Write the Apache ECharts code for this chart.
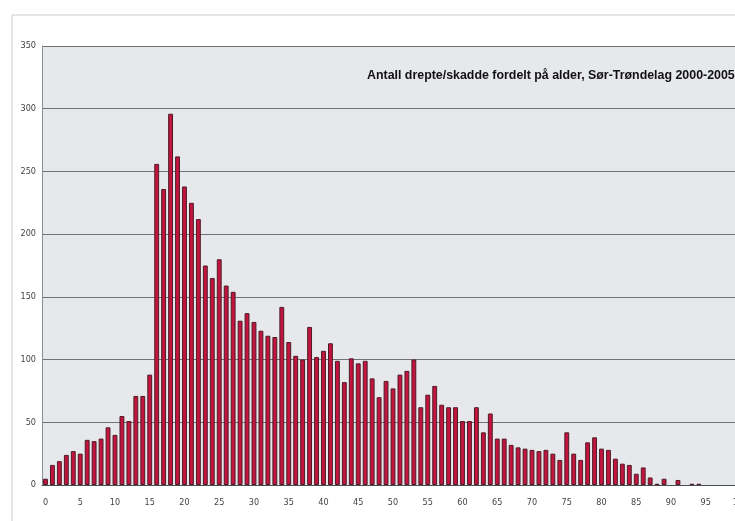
<!DOCTYPE html>
<html>
<head>
<meta charset="utf-8">
<script src="https://cdn.jsdelivr.net/npm/echarts@6/dist/echarts.min.js"></script>
<style>
  html, body { margin: 0; padding: 0; background: #fff; }
  #chart { width: 735px; height: 521px; }
</style>
</head>
<body>
<div id="chart"></div>
<script>
const chartTitle = "Antall drepte/skadde fordelt på alder, Sør-Trøndelag 2000-2005";

// alder 0..100
const ages = [];
for (let a = 0; a <= 100; a++) ages.push(String(a));

// antall per alder
const counts = [
  5, 16, 19, 24, 27, 25, 36, 35, 37, 46,
  40, 55, 51, 71, 71, 88, 256, 236, 296, 262,
  238, 225, 212, 175, 165, 180, 159, 154, 131, 137,
  130, 123, 119, 118, 142, 114, 103, 100, 126, 102,
  107, 113, 99, 82, 101, 97, 99, 85, 70, 83,
  77, 88, 91, 100, 62, 72, 79, 64, 62, 62,
  51, 51, 62, 42, 57, 37, 37, 32, 30, 29,
  28, 27, 28, 25, 20, 42, 25, 20, 34, 38,
  29, 28, 21, 17, 16, 9, 14, 6, 1, 5,
  0, 4, 0, 1, 1, 0, 0, 0, 0, 0,
  0
];

const yMax = 350;
const yStep = 50;

const tickFont = "'DejaVu Sans Condensed', 'Liberation Sans', sans-serif";

const chart = echarts.init(document.getElementById("chart"));
chart.setOption({
  backgroundColor: "#ffffff",
  animation: false,
  graphic: [
    {
      type: "rect",
      shape: { x: 12, y: 15, width: 760, height: 540 },
      style: { fill: "none", stroke: "#c9cdd2", lineWidth: 1 },
      z: -1,
    },
  ],
  title: {
    text: chartTitle,
    left: 362,
    top: 65,
    textStyle: {
      fontFamily: "'Liberation Sans', Arial, sans-serif",
      fontWeight: "bold",
      fontSize: 12.4,
      color: "#111",
    },
  },
  grid: {
    left: 42,
    top: 46,
    width: 702,
    bottom: 36,
    outerBoundsMode: "none",
    containLabel: false,
    show: true,
    backgroundColor: "#e6e8eb",
    borderWidth: 0,
  },
  xAxis: {
    type: "category",
    data: ages,
    axisLine: { lineStyle: { color: "#4a4d51", width: 1 } },
    axisTick: { show: false },
    axisLabel: {
      interval: 4,
      color: "#444",
      fontFamily: tickFont,
      fontSize: 9,
      margin: 13,
    },
  },
  yAxis: {
    type: "value",
    min: 0,
    max: yMax,
    interval: yStep,
    axisLine: { show: true, lineStyle: { color: "#8a8e93", width: 1 } },
    axisTick: { show: false },
    axisLabel: {
      color: "#444",
      fontFamily: tickFont,
      fontSize: 9,
      margin: 6,
    },
    splitLine: { lineStyle: { color: "#6f7276", width: 1 } },
  },
  series: [
    {
      type: "bar",
      data: counts.map((v) => (v > 0 ? v : { value: v, itemStyle: { borderWidth: 0 } })),
      barWidth: "70%",
      itemStyle: {
        color: "#c2143f",
        borderColor: "#4e1c26",
        borderWidth: 1,
      },
    },
  ],
});
</script>
</body>
</html>
